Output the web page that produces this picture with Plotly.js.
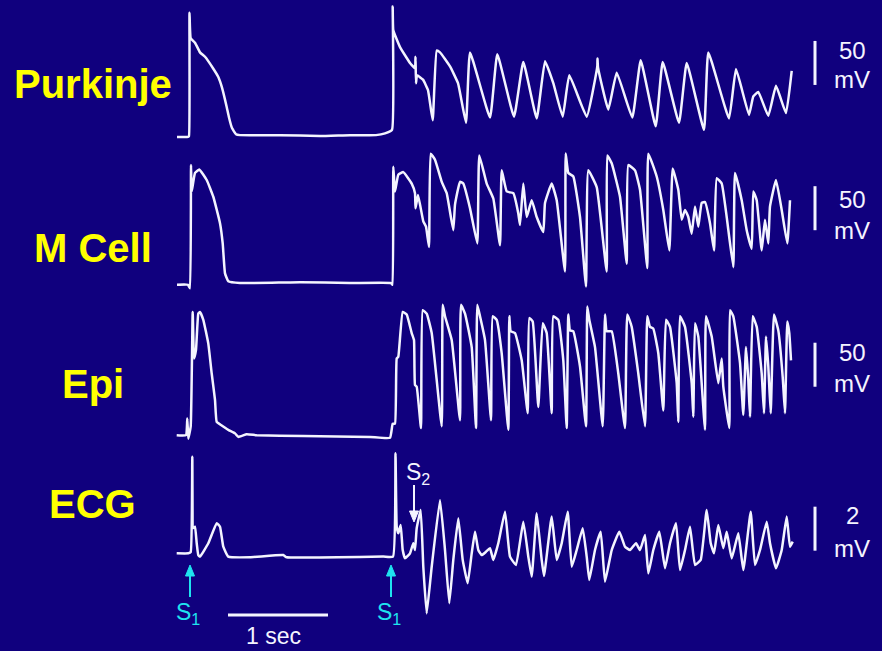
<!DOCTYPE html>
<html>
<head>
<meta charset="utf-8">
<script src="https://cdn.plot.ly/plotly-3.0.1.min.js"></script>
<style>html,body{margin:0;padding:0;background:#10007e;}#chart{width:882px;height:651px;}</style>
</head>
<body>
<div id="chart"></div>
<script>
// ---- Data (time in ms, S1 at t = 0; voltage in mV) ----
var traceNames = ["Purkinje", "M Cell", "Epi", "ECG"];
var scaleLabels = ["50", "50", "50", "2"];
var scaleUnits = ["mV", "mV", "mV", "mV"];
var scaleSpans = [50, 50, 50, 2];

var purkinjeTime = [-130,-20,-10,-5,7,50,100,150,230,283,320,367,390,420,460,500,900,1300,1600,1860,1950,2020,
  2027,2033,2100,2200,2250,2255,2260,2270,2330,2380,2427,
  2467,2500,2600,2680,2760,2800,3000,3073,3240,3333,3467,3550,3633,3727,3793,3967,
  4073,4075,4080,4183,4267,4423,4507,4657,4727,4890,4967,5140,5183,5390,5460,5590,5633,5683,5783,5860,5960,6017];
var purkinjeMv = [-86,-86,-85,55,26,21,10,5,-8,-18,-30,-52,-64,-76,-83,-84,-84,-85,-84,-84,-82,-78,
  62,35,16,-2,-8,5,-25,-16,-21,-33,-67,
  12,10,-6,-25,-70,10,-64,8,-63,-1,-65,0,-25,-63,-16,-63,
  -6,3,-7,-55,-13,-64,1,-74,-1,-70,-2,-78,10,-65,-9,-61,-40,-35,-62,-28,-59,-11];

var mcellTime = [-130,-20,0,10,17,50,93,167,233,300,327,350,383,500,1100,1600,2010,2025,
  2033,2050,2083,2133,2217,2250,2255,2280,2333,2360,2390,
  2407,2450,2517,2567,2633,2650,2700,2733,2800,2873,2893,2967,3033,3100,3117,3167,3233,3283,3300,
  3333,3367,3417,3467,3533,3550,3617,3667,3750,3757,3783,3833,3900,3960,3983,4067,4167,4173,4217,4300,4367,
  4383,4450,4500,4573,4583,4667,4733,4793,4827,4883,4917,4950,4983,5017,5050,5083,5117,5150,5200,5240,
  5267,5317,5367,5433,5450,5517,5567,5617,5633,5667,5717,5750,5783,5800,5860,5917,5973,6000];
var mcellMv = [-87,-87,-91,49,19,40,44,32,13,-17,-40,-74,-83,-85,-84,-85,-85,-87,
  47,19,38,41,28,17,0,15,-15,-21,-44,
  62,55,30,17,-25,4,30,28,0,-40,60,28,11,-42,43,19,17,-6,-19,
  28,-10,9,-10,-27,6,28,9,-72,62,40,36,-10,-89,43,24,-72,60,51,13,-63,
  49,43,21,-68,62,36,-2,-48,45,21,-13,-2,-10,-29,2,-21,6,7,-17,-48,
  34,28,-10,-67,40,9,-25,-46,19,9,-48,-13,-40,2,32,-2,-40,9];

var epiTime = [-133,-40,-27,-17,7,27,40,60,83,100,133,183,217,250,267,317,383,450,483,567,667,1130,1800,2000,
  2027,2050,2067,2083,2127,2167,2217,2240,2250,2267,2310,
  2327,2367,2417,2517,2527,2550,2617,2700,2710,2750,2817,2860,2873,2900,2950,3010,
  3027,3067,3117,3183,3193,3207,3250,3317,3377,3393,3427,3483,3527,3567,3617,
  3633,3683,3733,3767,3783,3800,3833,3900,3960,3973,3993,4050,4127,4150,4167,4217,4283,4350,
  4373,4417,4483,4550,4573,4600,4633,4683,4733,4760,4800,4867,4883,4900,4950,5017,5033,
  5050,5083,5150,5160,5217,5283,5317,5333,5393,5400,5433,5500,5533,5560,5583,5600,
  5627,5667,5717,5740,5760,5783,5807,5840,5883,5927,5950,5973,5993,6010];
var epiMv = [-84,-84,-65,-88,-74,56,3,13,54,56,47,20,-14,-44,-69,-73,-78,-82,-86,-83,-84,-85,-86,-87,
  -71,-71,3,5,56,53,32,24,-27,-29,-76,
  58,54,32,-74,64,51,24,-67,64,54,16,-76,64,51,24,-67,
  51,47,9,-78,51,34,32,1,-59,49,45,-52,43,32,-59,
  51,47,1,-76,53,35,34,-6,-74,62,47,16,-74,53,34,34,-14,-76,
  53,39,-14,-74,51,39,37,9,-56,47,39,-25,-69,51,39,-25,-63,
  43,28,-78,51,28,-25,3,-29,-76,58,51,-2,-61,16,-21,-63,
  51,39,-14,-59,28,-6,-59,53,35,-18,-59,45,32,1];

var ecgTime = [-133,-17,7,23,33,50,67,83,100,183,267,300,333,383,600,933,967,1933,2030,
  2055,2067,2083,2107,2127,2150,2200,2233,2250,2267,2307,2333,2367,2417,2500,2550,2593,2633,2683,2727,2777,
  2817,2850,2883,2917,2960,3000,3033,3083,3150,3200,3260,3333,3383,3417,3467,3517,3540,3617,3667,3717,3777,
  3817,3867,3927,3967,3993,4050,4107,4150,4217,4293,4350,4400,4460,4500,4550,4583,4633,4693,4750,4800,4860,
  4900,4950,5000,5050,5107,5167,5207,5240,5283,5333,5367,5417,5483,5533,5607,5650,5700,5767,5800,5860,5917,5967,6000,6027];
var ecgMv = [0.03,0.03,0.09,4.42,1.18,1.24,0.49,-0.05,-0.12,0.49,1.40,1.24,0.33,-0.12,-0.15,-0.05,-0.15,-0.12,-0.12,
  4.58,1.24,0.94,1.32,0.18,-0.2,0.03,0.49,0.18,1.17,2.0,-0.58,-2.70,-0.58,2.45,0.18,-2.24,-0.27,1.62,-0.27,-1.33,
  0.03,1.01,0.18,-0.05,0.1,0.26,-0.27,0.49,1.92,-0.12,-0.5,1.47,-0.12,-1.03,1.85,-0.27,-1.0,1.70,-0.27,0.49,1.92,
  -0.58,0.18,1.17,-0.12,-1.18,0.18,1.01,-1.26,0.18,1.01,0.33,0.18,0.49,0.18,0.86,-0.88,0.18,1.01,-0.65,0.49,1.40,
  -0.73,0.18,1.24,-0.5,-0.27,2.0,0.49,0.03,1.32,0.26,1.01,-0.2,0.94,-0.73,1.92,-0.5,0.18,1.47,0.49,-0.65,0.18,1.70,0.33,0.56];

var stimulusTimes = [0, 2010];   // S1 stimuli
var s2Time = 2240;               // premature S2
var timeBarStart = 380, timeBarLength = 1000; // "1 sec"

// ---- Layout helpers (pixel placement of decorations) ----
var W = 882, H = 651;
function py(p) { return 1 - p / H; }
function pxp(p) { return p / W; }

var bg = "#10007e";
var lineColor = "#f4f4ff";
var yellow = "#ffff00";
var cyan = "#1fe3ef";
var font = "Liberation Sans, Arial, Helvetica, sans-serif";

var times = [purkinjeTime, mcellTime, epiTime, ecgTime];
var values = [purkinjeMv, mcellMv, epiMv, ecgMv];
var axisIds = ["y", "y2", "y3", "y4"];

var data = [];
for (var i = 0; i < 4; i++) {
  data.push({
    x: times[i], y: values[i], yaxis: axisIds[i], xaxis: "x",
    type: "scatter", mode: "lines", name: traceNames[i],
    line: { color: lineColor, width: 2.5, shape: "spline", smoothing: 0.35 },
    hoverinfo: "skip", showlegend: false
  });
}

function hiddenY(range, overlay) {
  var a = { range: range, domain: [0, 1], visible: false, fixedrange: true, showgrid: false, zeroline: false };
  if (overlay) { a.overlaying = "y"; }
  return a;
}

var shapes = [];
var scaleX = 6250;
var barRanges = [[-27, -27 + scaleSpans[0]], [-25, -25 + scaleSpans[1]], [-29, -29 + scaleSpans[2]], [0.15, 0.15 + scaleSpans[3]]];
for (var k = 0; k < 4; k++) {
  shapes.push({ type: "line", xref: "x", yref: axisIds[k], x0: scaleX, x1: scaleX,
    y0: barRanges[k][0], y1: barRanges[k][1], line: { color: lineColor, width: 3 } });
}
shapes.push({ type: "line", xref: "x", yref: "paper", x0: timeBarStart, x1: timeBarStart + timeBarLength,
  y0: py(615), y1: py(615), line: { color: lineColor, width: 3 } });

// arrows drawn as shapes (shaft + head)
function arrow(t, tipY, tailY, color) {
  var dir = tailY > tipY ? 1 : -1; // head at tipY
  shapes.push({ type: "line", xref: "x", yref: "paper", x0: t, x1: t, y0: py(tailY), y1: py(tipY + dir * 6),
    line: { color: color, width: 2 } });
  shapes.push({ type: "path", xref: "x", yref: "paper",
    path: "M " + (t - 45) + " " + py(tipY + dir * 11) + " L " + t + " " + py(tipY) + " L " + (t + 45) + " " + py(tipY + dir * 11) + " Z",
    fillcolor: color, line: { color: color, width: 1 } });
}
for (var s = 0; s < stimulusTimes.length; s++) { arrow(stimulusTimes[s], 565, 597, cyan); }
arrow(s2Time, 522, 485, lineColor);

var annotations = [];
var labelY = [84, 248, 384, 504];
for (var j = 0; j < 4; j++) {
  annotations.push({ text: "<b>" + traceNames[j] + "</b>", xref: "paper", yref: "paper",
    x: pxp(92.5), y: py(labelY[j]), xanchor: "center", yanchor: "middle", showarrow: false,
    font: { family: font, size: 40, color: yellow } });
}
var numY = [51, 199, 353, 515], unitY = [80, 230, 383, 548];
for (var m = 0; m < 4; m++) {
  annotations.push({ text: scaleLabels[m], xref: "paper", yref: "paper", x: pxp(852), y: py(numY[m]),
    xanchor: "center", yanchor: "middle", showarrow: false, font: { family: font, size: 24, color: lineColor } });
  annotations.push({ text: scaleUnits[m], xref: "paper", yref: "paper", x: pxp(852), y: py(unitY[m]),
    xanchor: "center", yanchor: "middle", showarrow: false, font: { family: font, size: 24, color: lineColor } });
}
for (var s2 = 0; s2 < stimulusTimes.length; s2++) {
  annotations.push({ text: "S<sub>1</sub>", xref: "x", yref: "paper", x: stimulusTimes[s2] - 20, y: py(613),
    xanchor: "center", yanchor: "middle", showarrow: false, font: { family: font, size: 23, color: cyan } });
}
annotations.push({ text: "S<sub>2</sub>", xref: "x", yref: "paper", x: s2Time + 40, y: py(473),
  xanchor: "center", yanchor: "middle", showarrow: false, font: { family: font, size: 23, color: lineColor } });
annotations.push({ text: "1 sec", xref: "x", yref: "paper", x: timeBarStart + timeBarLength / 2 - 50, y: py(636),
  xanchor: "center", yanchor: "middle", showarrow: false, font: { family: font, size: 23, color: lineColor } });

var layout = {
  width: W, height: H,
  margin: { l: 0, r: 0, t: 0, b: 0, pad: 0 },
  paper_bgcolor: bg, plot_bgcolor: bg,
  showlegend: false,
  xaxis: { range: [-1900, 6920], domain: [0, 1], visible: false, fixedrange: true, showgrid: false, zeroline: false },
  yaxis: hiddenY([-670, 69.5], false),
  yaxis2: hiddenY([-503, 236.5], true),
  yaxis3: hiddenY([-329.2, 410.3], true),
  yaxis4: hiddenY([-4.41, 25.18], true),
  shapes: shapes,
  annotations: annotations
};

Plotly.newPlot("chart", data, layout, { displayModeBar: false, staticPlot: true });
</script>
</body>
</html>
